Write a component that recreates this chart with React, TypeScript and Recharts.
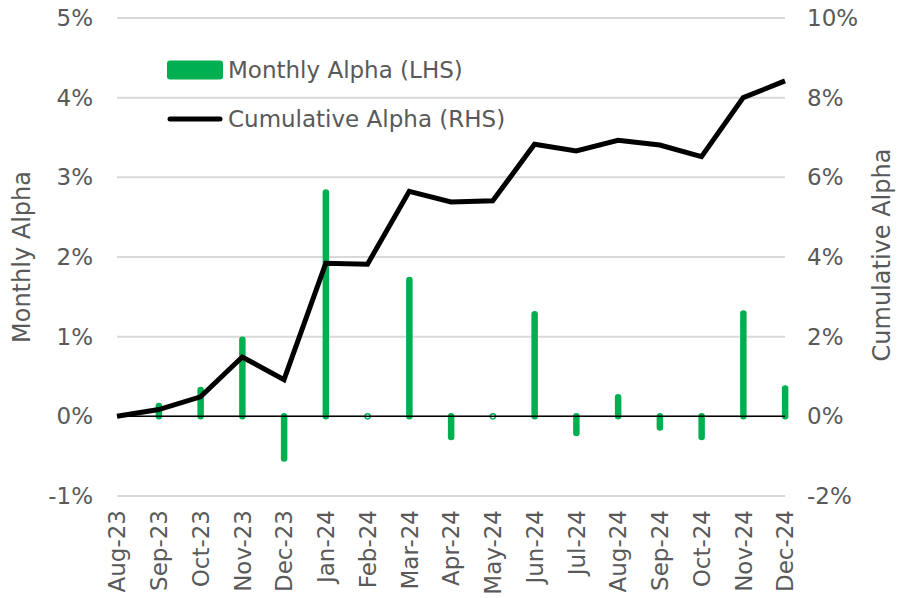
import React from 'react';
import {
  ComposedChart,
  Bar,
  Line,
  XAxis,
  YAxis,
  CartesianGrid,
  ReferenceLine,
  Legend,
} from 'recharts';

const months = [
  'Aug-23', 'Sep-23', 'Oct-23', 'Nov-23', 'Dec-23', 'Jan-24', 'Feb-24', 'Mar-24', 'Apr-24',
  'May-24', 'Jun-24', 'Jul-24', 'Aug-24', 'Sep-24', 'Oct-24', 'Nov-24', 'Dec-24',
];

// monthly alpha, % (LHS)
const monthlyAlpha = [
  null, 0.13, 0.33, 0.96, -0.53, 2.81, 0, 1.71, -0.26, 0, 1.28, -0.21, 0.24, -0.14, -0.26, 1.29, 0.35,
];

// cumulative alpha, % (RHS)
const cumulativeAlpha = [
  0, 0.17, 0.49, 1.49, 0.92, 3.84, 3.82, 5.65, 5.38, 5.41, 6.83, 6.66, 6.93, 6.81, 6.52, 8.0, 8.42,
];

const leftTicks = [-1, 0, 1, 2, 3, 4, 5];
const rightTicks = [-2, 0, 2, 4, 6, 8, 10];

const data = months.map((m, i) => ({
  idx: i,
  month: m,
  monthly: monthlyAlpha[i],
  cumulative: cumulativeAlpha[i],
}));

const FONT = '"DejaVu Sans", sans-serif';
const GREY = '#595959';
const GREEN = '#00b050';

const pct = (v: number) => `${v}%`;

function StickBar(props: any) {
  const { x, y, width, height, payload } = props;
  if (payload == null || payload.monthly == null) return null;
  const cx = x + width / 2;
  if (payload.monthly === 0 || Math.abs(height) < 0.5) {
    return <circle cx={cx} cy={y} r={2.6} fill="#fff" stroke={GREEN} strokeWidth={1.4} />;
  }
  return (
    <line
      x1={cx}
      x2={cx}
      y1={y}
      y2={y + height}
      stroke={GREEN}
      strokeWidth={6.5}
      strokeLinecap="round"
    />
  );
}

function MonthTick(props: any) {
  const { x, y, payload } = props;
  return (
    <text
      x={x}
      y={y + 12}
      transform={`rotate(-90, ${x}, ${y + 12})`}
      textAnchor="end"
      dy="0.36em"
      fill={GREY}
      fontSize={23}
      fontFamily={FONT}
    >
      {months[payload.value]}
    </text>
  );
}

function AxisTitle({ x, y, text }: { x: number; y: number; text: string }) {
  return (
    <text
      x={x}
      y={y}
      transform={`rotate(-90, ${x}, ${y})`}
      textAnchor="middle"
      fill={GREY}
      fontSize={24}
      fontFamily={FONT}
    >
      {text}
    </text>
  );
}

function LegendBox() {
  const row: React.CSSProperties = {
    display: 'flex',
    alignItems: 'center',
    height: 49,
    fontFamily: FONT,
    fontSize: 23,
    color: GREY,
    whiteSpace: 'nowrap',
  };
  return (
    <div>
      <div style={row}>
        <svg width={61} height={22}>
          <rect x={0} y={1.5} width={56} height={19} rx={3} fill={GREEN} />
        </svg>
        <span>Monthly Alpha (LHS)</span>
      </div>
      <div style={row}>
        <svg width={61} height={22}>
          <line x1={3} x2={53} y1={11} y2={11} stroke="#000" strokeWidth={5} strokeLinecap="round" />
        </svg>
        <span>Cumulative Alpha (RHS)</span>
      </div>
    </div>
  );
}

export default function App() {
  return (
    <div style={{ width: 898, height: 598, background: '#fff' }}>
      <style>{'body{margin:0}'}</style>
      <ComposedChart
        width={898}
        height={598}
        data={data}
        margin={{ top: 18, right: 0, bottom: 0, left: 0 }}
      >
        <CartesianGrid yAxisId="left" vertical={false} stroke="#d9d9d9" strokeWidth={2} />
        <XAxis
          dataKey="idx"
          type="number"
          domain={[0, 16]}
          ticks={data.map((d) => d.idx)}
          interval={0}
          height={102}
          axisLine={false}
          tickLine={false}
          tickSize={0}
          tick={<MonthTick />}
        />
        <YAxis
          yAxisId="left"
          domain={[-1, 5]}
          ticks={leftTicks}
          width={117}
          axisLine={false}
          tickLine={false}
          tickSize={0}
          tickMargin={24}
          tickFormatter={pct}
          tick={{ fill: GREY, fontSize: 23, fontFamily: FONT }}
          label={{ content: () => <AxisTitle x={30} y={257} text="Monthly Alpha" /> }}
        />
        <YAxis
          yAxisId="right"
          orientation="right"
          domain={[-2, 10]}
          ticks={rightTicks}
          width={113}
          axisLine={false}
          tickLine={false}
          tickSize={0}
          tickMargin={22}
          tickFormatter={pct}
          tick={{ fill: GREY, fontSize: 23, fontFamily: FONT, textAnchor: 'start' }}
          label={{ content: () => <AxisTitle x={890} y={255} text="Cumulative Alpha" /> }}
        />
        <ReferenceLine yAxisId="left" y={0} stroke="#000" strokeWidth={1.5} />
        <Bar
          yAxisId="left"
          dataKey="monthly"
          barSize={6}
          fill={GREEN}
          shape={<StickBar />}
          isAnimationActive={false}
        />
        <Line
          yAxisId="right"
          dataKey="cumulative"
          type="linear"
          stroke="#000"
          strokeWidth={5}
          dot={false}
          activeDot={false}
          isAnimationActive={false}
        />
        <Legend
          layout="vertical"
          align="center"
          verticalAlign="middle"
          content={() => <LegendBox />}
          wrapperStyle={{ left: 167, top: 45, width: 'auto', height: 'auto' }}
        />
      </ComposedChart>
    </div>
  );
}
